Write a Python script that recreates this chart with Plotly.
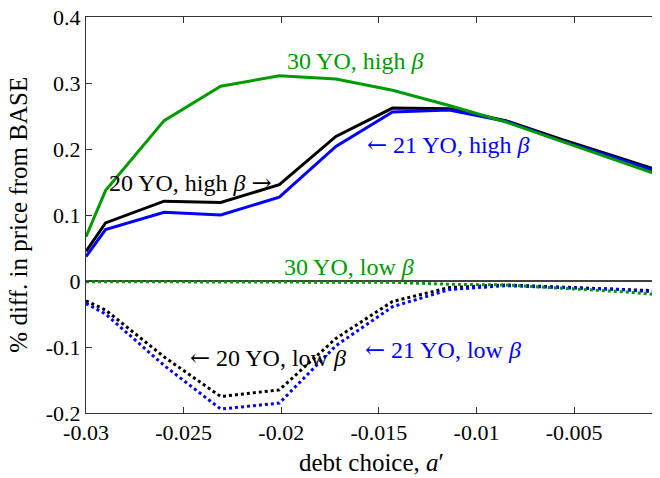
import plotly.graph_objects as go

# debt grid (a')
debt = [-0.0300, -0.0290, -0.0260, -0.0231, -0.0201, -0.0172, -0.0143, -0.0114, -0.0085, -0.0056, -0.0027, -0.0006]

# % diff in price from BASE
yo30_high = [0.067, 0.137, 0.243, 0.295, 0.311, 0.306, 0.289, 0.266, 0.241, 0.211, 0.182, 0.160]
yo20_high = [0.045, 0.088, 0.121, 0.119, 0.146, 0.219, 0.262, 0.261, 0.243, 0.214, 0.187, 0.167]
yo21_high = [0.037, 0.078, 0.104, 0.100, 0.127, 0.204, 0.256, 0.259, 0.242, 0.212, 0.185, 0.164]

yo30_low = [-0.001, -0.001, -0.001, -0.001, -0.001, -0.001, -0.002, -0.005, -0.006, -0.011, -0.016, -0.021]
yo20_low = [-0.030, -0.044, -0.115, -0.175, -0.165, -0.087, -0.031, -0.010, -0.006, -0.009, -0.012, -0.015]
yo21_low = [-0.034, -0.050, -0.128, -0.194, -0.185, -0.098, -0.039, -0.013, -0.007, -0.010, -0.013, -0.017]

xtick_vals = [-0.03, -0.025, -0.02, -0.015, -0.01, -0.005]
xtick_text = ["-0.03", "-0.025", "-0.02", "-0.015", "-0.01", "-0.005"]
ytick_vals = [0.4, 0.3, 0.2, 0.1, 0.0, -0.1, -0.2]
ytick_text = ["0.4", "0.3", "0.2", "0.1", "0", "-0.1", "-0.2"]

GREEN = "#009900"
BLUE = "#0000ff"
BLACK = "#000000"
FONT = "Liberation Serif, Times New Roman, serif"
RA = '<span style="font-family:DejaVu Serif">→</span>'
LA = '<span style="font-family:DejaVu Serif">←</span>'

fig = go.Figure()

series = [
    (yo20_high, BLACK, "solid"),
    (yo21_high, BLUE, "solid"),
    (yo30_high, GREEN, "solid"),
    (yo20_low, BLACK, "dot"),
    (yo21_low, BLUE, "dot"),
    (yo30_low, GREEN, "dot"),
]
for ys, col, dash in series:
    fig.add_trace(go.Scatter(x=debt, y=ys, mode="lines",
                             line=dict(color=col, width=3, dash=dash),
                             showlegend=False, hoverinfo="skip"))

fig.add_hline(y=0, line=dict(color="black", width=1.5), layer="below")

labels = [
    (-0.0162, 0.334, "30 YO, high <i>β</i>", GREEN),
    (-0.02465, 0.148, "20 YO, high <i>β</i> " + RA, BLACK),
    (-0.01144, 0.206, LA + " 21 YO, high <i>β</i>", BLUE),
    (-0.01651, 0.021, "30 YO, low <i>β</i>", GREEN),
    (-0.02066, -0.1165, LA + " 20 YO, low <i>β</i>", BLACK),
    (-0.01169, -0.104, LA + " 21 YO, low <i>β</i>", BLUE),
]
for x, y, t, c in labels:
    fig.add_annotation(x=x, y=y, text=t, showarrow=False,
                       font=dict(family=FONT, size=24, color=c),
                       xanchor="center", yanchor="middle")

# axis titles
fig.add_annotation(xref="paper", yref="paper", x=0.498, y=-0.124,
                   text="debt choice, <i>a</i>′", showarrow=False,
                   font=dict(family=FONT, size=25, color="black"),
                   xanchor="center", yanchor="middle")
fig.add_annotation(xref="paper", yref="paper", x=-0.119, y=0.5,
                   text="% diff. in price from BASE", showarrow=False, textangle=-90,
                   font=dict(family=FONT, size=25, color="black"),
                   xanchor="center", yanchor="middle")

# page body has an 8px margin, so the figure is 8px smaller than the window
fig.update_layout(
    width=652, height=470,
    margin=dict(l=78, r=0, t=9, b=65),
    paper_bgcolor="white", plot_bgcolor="white",
    font=dict(family=FONT, size=22, color="black"),
    xaxis=dict(range=[-0.03, -0.0006], tickvals=xtick_vals, ticktext=xtick_text,
               ticks="inside", ticklen=6, tickcolor="#333333", tickwidth=1,
               showline=True, linecolor="#333333", linewidth=1, mirror="ticks",
               showgrid=False, zeroline=False, automargin=False,
               ticklabeloverflow="allow"),
    yaxis=dict(range=[-0.2, 0.4], tickvals=ytick_vals, ticktext=ytick_text,
               ticks="inside", ticklen=6, tickcolor="#333333", tickwidth=1,
               showline=True, linecolor="#333333", linewidth=1,
               showgrid=False, zeroline=False, automargin=False,
               ticklabeloverflow="allow"),
)

fig.write_html("out.html")
